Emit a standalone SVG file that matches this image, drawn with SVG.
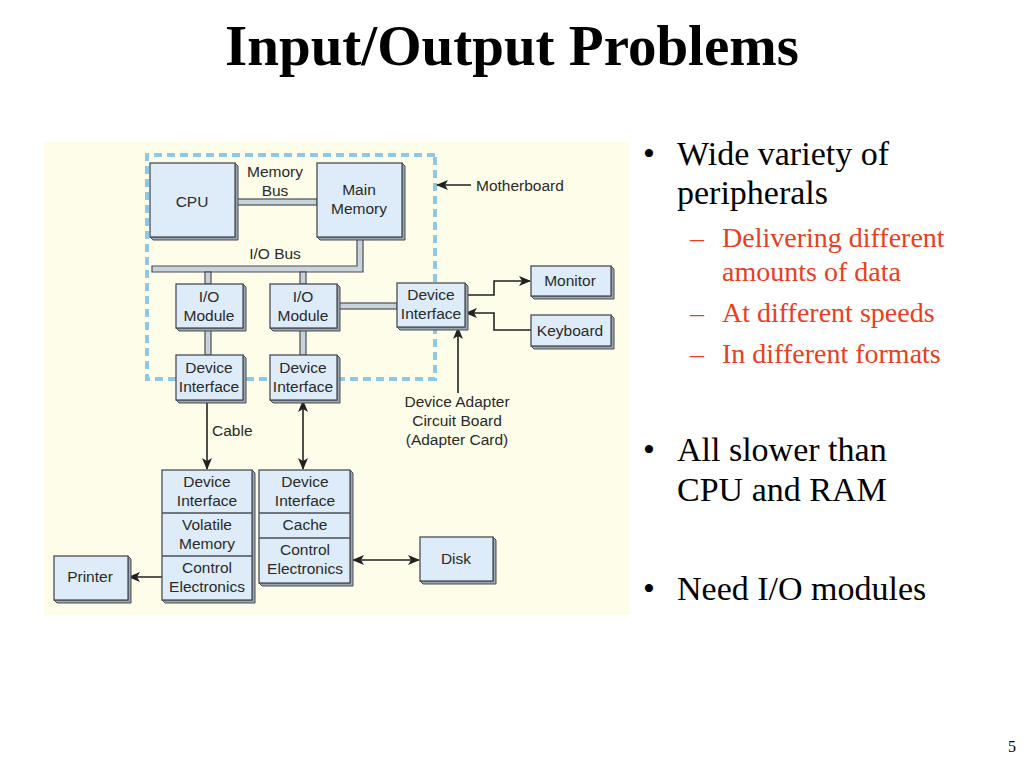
<svg xmlns="http://www.w3.org/2000/svg" width="1024" height="768" viewBox="0 0 1024 768">
<defs>
<style>
.bx{fill:#ddecf8;stroke:#4a4f55;stroke-width:1.3}
.sh{fill:#9aa7b3;stroke:#4a4f55;stroke-width:1}
.t{font-family:"Liberation Sans",Arial,sans-serif;font-size:15.5px;fill:#2a2a2a;text-anchor:middle}
.tl{font-family:"Liberation Sans",Arial,sans-serif;font-size:15.5px;fill:#2a2a2a}
.bus{fill:#c9d3dc;stroke:#4a4f55;stroke-width:1.2}
.ln{fill:none;stroke:#222;stroke-width:1.6}
.mb{fill:none;stroke:#8fc7e6;stroke-width:4;stroke-dasharray:8 5}
.s{font-family:"Liberation Serif","Times New Roman",serif;font-size:34px;fill:#000}
.r{font-family:"Liberation Serif","Times New Roman",serif;font-size:28px;fill:#e8401c}
</style>
<marker id="ah" viewBox="0 0 12 10" refX="11" refY="5" markerWidth="12" markerHeight="10" markerUnits="userSpaceOnUse" orient="auto-start-reverse">
<path d="M0,0 L12,5 L0,10 L3,5 Z" fill="#222"/>
</marker>
</defs>
<rect width="1024" height="768" fill="#fff"/>
<text x="512" y="65" text-anchor="middle" style="font-family:'Liberation Serif','Times New Roman',serif;font-size:57px;font-weight:bold">Input/Output Problems</text>

<rect x="44" y="142" width="586" height="473" fill="#fdfde9"/>

<g id="motherboard">
<path class="mb" d="M435,155 H147 V379 H435 Z"/>
</g>

<g id="connectors">
<rect class="bus" x="235" y="199" width="82" height="6"/>
<path class="bus" d="M152,266 H357 V237 H363 V272 H152 Z"/>
<rect class="bus" x="205" y="272" width="6" height="12"/>
<rect class="bus" x="300" y="272" width="6" height="12"/>
<rect class="bus" x="205" y="328" width="6" height="27"/>
<rect class="bus" x="300" y="328" width="6" height="27"/>
<rect class="bus" x="337" y="303" width="60" height="6"/>
<path class="ln" d="M465,295 H494 V281 H530" marker-end="url(#ah)"/>
<path class="ln" d="M531,330 H494 V313 H466" marker-end="url(#ah)"/>
<path class="ln" d="M458,393 V328" marker-end="url(#ah)"/>
<path class="ln" d="M471,185 H437" marker-end="url(#ah)"/>
<path class="ln" d="M207,400 V469" marker-end="url(#ah)"/>
<path class="ln" d="M303,401 V469" marker-start="url(#ah)" marker-end="url(#ah)"/>
<path class="ln" d="M162,577 H129" marker-end="url(#ah)"/>
<path class="ln" d="M353,560 H419" marker-start="url(#ah)" marker-end="url(#ah)"/>
</g>

<g id="cpu">
<path class="sh" d="M150,237 L153,240 H238 V166 L235,163 V237 Z"/>
<rect class="bx" x="150" y="163" width="85" height="74"/>
<text class="t" x="192" y="207">CPU</text>
</g>
<g id="main-memory">
<path class="sh" d="M317,237 L320,240 H405 V166 L402,163 V237 Z"/>
<rect class="bx" x="317" y="163" width="85" height="74"/>
<text class="t" x="359" y="195">Main</text>
<text class="t" x="359" y="214">Memory</text>
</g>
<text class="t" x="275" y="177">Memory</text>
<text class="t" x="275" y="196">Bus</text>
<text class="t" x="275" y="259">I/O Bus</text>

<g id="io-module-1">
<path class="sh" d="M176,328 L179,331 H246 V287 L243,284 V328 Z"/>
<rect class="bx" x="176" y="284" width="67" height="44"/>
<text class="t" x="209" y="302">I/O</text>
<text class="t" x="209" y="321">Module</text>
</g>
<g id="io-module-2">
<path class="sh" d="M270,328 L273,331 H340 V287 L337,284 V328 Z"/>
<rect class="bx" x="270" y="284" width="67" height="44"/>
<text class="t" x="303" y="302">I/O</text>
<text class="t" x="303" y="321">Module</text>
</g>
<g id="device-interface-adapter">
<path class="sh" d="M397,327 L400,330 H468 V286 L465,283 V327 Z"/>
<rect class="bx" x="397" y="283" width="68" height="44"/>
<text class="t" x="431" y="300">Device</text>
<text class="t" x="431" y="319">Interface</text>
</g>
<g id="device-interface-1">
<path class="sh" d="M176,400 L179,403 H246 V358 L243,355 V400 Z"/>
<rect class="bx" x="176" y="355" width="67" height="45"/>
<text class="t" x="209" y="373">Device</text>
<text class="t" x="209" y="392">Interface</text>
</g>
<g id="device-interface-2">
<path class="sh" d="M270,400 L273,403 H340 V358 L337,355 V400 Z"/>
<rect class="bx" x="270" y="355" width="67" height="45"/>
<text class="t" x="303" y="373">Device</text>
<text class="t" x="303" y="392">Interface</text>
</g>
<g id="monitor">
<path class="sh" d="M531,296 L534,299 H614 V269 L611,266 V296 Z"/>
<rect class="bx" x="531" y="266" width="80" height="30"/>
<text class="t" x="570" y="286">Monitor</text>
</g>
<g id="keyboard">
<path class="sh" d="M531,346 L534,349 H614 V318 L611,315 V346 Z"/>
<rect class="bx" x="531" y="315" width="80" height="31"/>
<text class="t" x="570" y="336">Keyboard</text>
</g>

<text class="tl" x="476" y="191">Motherboard</text>
<text class="t" x="457" y="407">Device Adapter</text>
<text class="t" x="457" y="426">Circuit Board</text>
<text class="t" x="457" y="445">(Adapter Card)</text>
<text class="tl" x="212" y="436">Cable</text>

<g id="printer-controller">
<path class="sh" d="M162,600 L165,603 H255 V473 L252,470 V600 Z"/>
<rect class="bx" x="162" y="470" width="90" height="130"/>
<line x1="162" y1="513" x2="252" y2="513" stroke="#4a4f55" stroke-width="1.3"/>
<line x1="162" y1="556" x2="252" y2="556" stroke="#4a4f55" stroke-width="1.3"/>
<text class="t" x="207" y="487">Device</text>
<text class="t" x="207" y="506">Interface</text>
<text class="t" x="207" y="530">Volatile</text>
<text class="t" x="207" y="549">Memory</text>
<text class="t" x="207" y="573">Control</text>
<text class="t" x="207" y="592">Electronics</text>
</g>
<g id="disk-controller">
<path class="sh" d="M259,583 L262,586 H353 V473 L350,470 V583 Z"/>
<rect class="bx" x="259" y="470" width="91" height="113"/>
<line x1="259" y1="513" x2="350" y2="513" stroke="#4a4f55" stroke-width="1.3"/>
<line x1="259" y1="538" x2="350" y2="538" stroke="#4a4f55" stroke-width="1.3"/>
<text class="t" x="305" y="487">Device</text>
<text class="t" x="305" y="506">Interface</text>
<text class="t" x="305" y="530">Cache</text>
<text class="t" x="305" y="555">Control</text>
<text class="t" x="305" y="574">Electronics</text>
</g>
<g id="printer">
<path class="sh" d="M54,600 L57,603 H131 V559 L128,556 V600 Z"/>
<rect class="bx" x="54" y="556" width="74" height="44"/>
<text class="t" x="90" y="582">Printer</text>
</g>
<g id="disk">
<path class="sh" d="M420,581 L423,584 H496 V540 L493,537 V581 Z"/>
<rect class="bx" x="420" y="537" width="73" height="44"/>
<text class="t" x="456" y="564">Disk</text>
</g>

<g id="bullets">
<text class="s" x="643" y="165">•</text>
<text class="s" x="677" y="165">Wide variety of</text>
<text class="s" x="677" y="204">peripherals</text>
<text class="r" x="690" y="247">–</text>
<text class="r" x="722" y="247">Delivering different</text>
<text class="r" x="722" y="281">amounts of data</text>
<text class="r" x="690" y="322">–</text>
<text class="r" x="722" y="322">At different speeds</text>
<text class="r" x="690" y="363">–</text>
<text class="r" x="722" y="363">In different formats</text>
<text class="s" x="643" y="461">•</text>
<text class="s" x="677" y="461">All slower than</text>
<text class="s" x="677" y="501">CPU and RAM</text>
<text class="s" x="643" y="600">•</text>
<text class="s" x="677" y="600">Need I/O modules</text>
</g>
<text x="1008" y="752" style="font-family:'Liberation Serif','Times New Roman',serif;font-size:16px">5</text>
</svg>
